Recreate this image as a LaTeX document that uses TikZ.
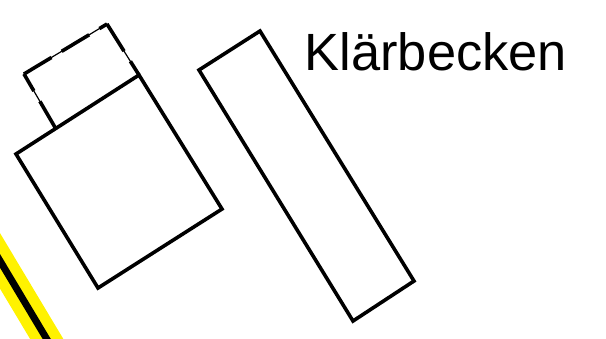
\documentclass[tikz,border=0pt]{standalone}
\usepackage{fontspec}
\setmainfont{Liberation Sans}
\tikzset{
    becken/.style={line width=0.036cm,line join=miter},
    schacht/.style={line width=0.012cm},
    schachtdash/.style={line width=0.036cm,dash pattern=on 0.32cm off 0.12cm},
}
\begin{document}
\begin{tikzpicture}[x=0.01cm,y=-0.01cm]
    \useasboundingbox (0,0) rectangle (606,338);
    \begin{scope}
        \clip (0,0) rectangle (606,338);
        % strasse
        \draw [yellow,line width=0.285cm] (-40,194) -- (100,428);
        \draw [black,line width=0.07cm] (-40,194) -- (100,428);
    \end{scope}
    % becken
    \draw [becken] (16,154) -- (139,75) -- (222,209) -- (98,288) -- cycle;
    \draw [becken] (199,70) -- (260,31) -- (414,281) -- (353,321) -- cycle;
    % schacht
    \coordinate (a) at (56,129);
    \coordinate (b) at (24,74);
    \coordinate (c) at (107,24);
    \coordinate (d) at (139,75);
    \draw [schacht] (a) -- (b) -- (c) -- (d);
    \draw [schachtdash] (a) -- (b);
    \draw [schachtdash] (b) -- (c);
    \draw [schachtdash] (c) -- (d);
    \node (titel) [anchor=base west,inner sep=0pt,font=\fontsize{14.9pt}{18pt}\selectfont] at (304,70) {Klärbecken};
\end{tikzpicture}
\end{document}
